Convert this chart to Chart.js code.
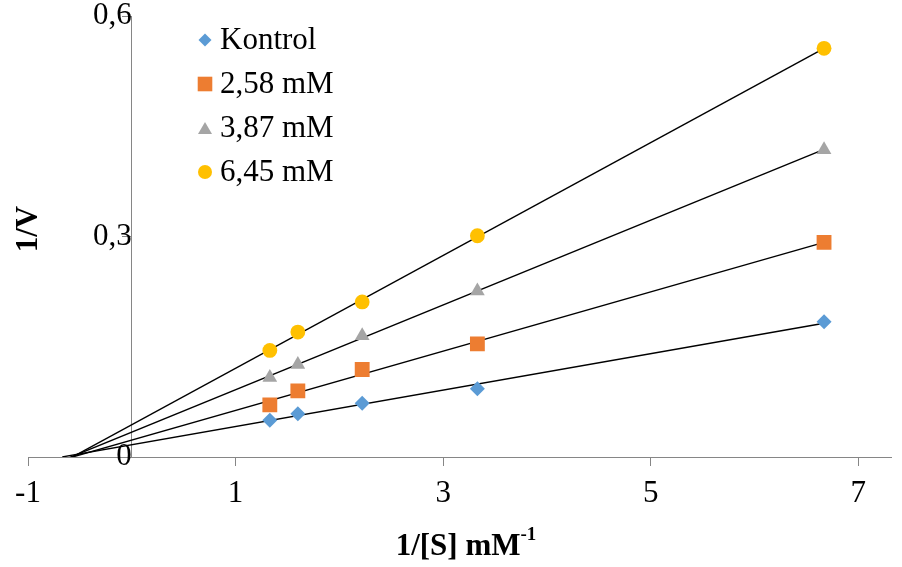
<!DOCTYPE html>
<html>
<head>
<meta charset="utf-8">
<script src="https://cdn.jsdelivr.net/npm/chart.js@4"></script>
<style>
  html, body { margin: 0; padding: 0; background: #fff; overflow: hidden; }
  canvas { display: block; }
</style>
</head>
<body>
<canvas id="chart" width="902" height="567"></canvas>
<script>
// 1/[S] values (mM^-1)
const xValues = [1.33, 1.6, 2.22, 3.33, 6.67];
// 1/V for each inhibitor concentration
const kontrol = [0.050, 0.059, 0.073, 0.093, 0.184];
const inh258 = [0.071, 0.090, 0.119, 0.154, 0.292];
const inh387 = [0.108, 0.126, 0.165, 0.226, 0.418];
const inh645 = [0.145, 0.170, 0.211, 0.301, 0.556];

const seriesNames = ['Kontrol', '2,58 mM', '3,87 mM', '6,45 mM'];
const xTicks = [-1, 1, 3, 5, 7];
const yTicks = [0, 0.3, 0.6];

const colors = ['#5B9BD5', '#ED7D31', '#A5A5A5', '#FFC000'];
const styles = ['rectRot', 'rect', 'triangle', 'circle'];
const radii = [7.5, 10.5, 8.5, 7.4];
const allSeries = [kontrol, inh258, inh387, inh645];

const FONT = "'Liberation Serif', 'Times New Roman', serif";

// least squares trendline, extended back to the x-axis region
function trend(ys) {
    const n = xValues.length;
    const mx = xValues.reduce((a, b) => a + b, 0) / n;
    const my = ys.reduce((a, b) => a + b, 0) / n;
    let sxy = 0, sxx = 0;
    for (let i = 0; i < n; i++) {
        sxy += (xValues[i] - mx) * (ys[i] - my);
        sxx += (xValues[i] - mx) * (xValues[i] - mx);
    }
    const m = sxy / sxx;
    const b = my - m * mx;
    const x0 = -0.67, x1 = xValues[n - 1];
    return [{ x: x0, y: m * x0 + b }, { x: x1, y: m * x1 + b }];
}

const datasets = [];
allSeries.forEach((ys, i) => {
    datasets.push({
        label: seriesNames[i],
        data: xValues.map((x, j) => ({ x: x, y: ys[j] })),
        showLine: false,
        pointStyle: styles[i],
        pointRadius: radii[i],
        pointHoverRadius: radii[i],
        backgroundColor: colors[i],
        borderColor: colors[i],
        borderWidth: 0,
        order: 1
    });
});
allSeries.forEach((ys, i) => {
    datasets.push({
        label: 'trend' + i,
        data: trend(ys),
        showLine: true,
        pointRadius: 0,
        borderColor: '#000',
        borderWidth: 1.4,
        fill: false,
        order: 2
    });
});

// legend drawn inside the plot area
const innerLegend = {
    id: 'innerLegend',
    afterDraw(chart) {
        const ctx = chart.ctx;
        const area = chart.chartArea;
        const legR = [6.5, 7.3, 7, 7];
        ctx.save();
        seriesNames.forEach((name, i) => {
            const cx = area.left + 177;
            const cy = area.top + 24 + i * 44;
            ctx.fillStyle = colors[i];
            const r = legR[i];
            ctx.beginPath();
            if (styles[i] === 'rectRot') {
                ctx.moveTo(cx, cy - r); ctx.lineTo(cx + r, cy);
                ctx.lineTo(cx, cy + r); ctx.lineTo(cx - r, cy);
            } else if (styles[i] === 'rect') {
                ctx.rect(cx - r, cy - r, 2 * r, 2 * r);
            } else if (styles[i] === 'triangle') {
                ctx.moveTo(cx, cy - r + 1); ctx.lineTo(cx + r, cy + r - 1);
                ctx.lineTo(cx - r, cy + r - 1);
            } else {
                ctx.arc(cx, cy, r, 0, Math.PI * 2);
            }
            ctx.closePath();
            ctx.fill();
            ctx.fillStyle = '#000';
            ctx.font = '31px ' + FONT;
            ctx.textBaseline = 'middle';
            ctx.textAlign = 'left';
            ctx.fillText(name, cx + 15, cy + 1);
        });
        ctx.restore();
    }
};

// axis titles (with superscript on the x title)
const axisTitles = {
    id: 'axisTitles',
    afterDraw(chart) {
        const ctx = chart.ctx;
        ctx.save();
        ctx.fillStyle = '#000';
        ctx.textBaseline = 'alphabetic';

        const main = '1/[S] mM';
        const sup = '-1';
        ctx.font = 'bold 31px ' + FONT;
        const w1 = ctx.measureText(main).width;
        ctx.font = 'bold 19px ' + FONT;
        const w2 = ctx.measureText(sup).width;
        const startX = 466 - (w1 + w2) / 2;
        ctx.textAlign = 'left';
        ctx.font = 'bold 31px ' + FONT;
        ctx.fillText(main, startX, 555);
        ctx.font = 'bold 19px ' + FONT;
        ctx.fillText(sup, startX + w1, 540);

        ctx.translate(37, 229);
        ctx.rotate(-Math.PI / 2);
        ctx.textAlign = 'center';
        ctx.font = 'bold 31px ' + FONT;
        ctx.fillText('1/V', 0, 0);
        ctx.restore();
    }
};

const axisColor = '#868686';

new Chart(document.getElementById('chart'), {
    type: 'scatter',
    data: { datasets: datasets },
    options: {
        responsive: false,
        animation: false,
        devicePixelRatio: 1,
        layout: { padding: { left: 28, right: 2, top: 16, bottom: 0 } },
        plugins: {
            legend: { display: false },
            tooltip: { enabled: false }
        },
        scales: {
            x: {
                type: 'linear',
                position: 'bottom',
                min: -1,
                max: 7.32,
                afterBuildTicks: s => { s.ticks = xTicks.map(v => ({ value: v })); },
                afterFit: s => { s.height = 110; s.paddingLeft = 0; s.paddingRight = 0; },
                ticks: {
                    color: '#000',
                    font: { family: FONT, size: 31 },
                    padding: 9,
                    maxRotation: 0
                },
                grid: {
                    drawOnChartArea: false,
                    drawTicks: true,
                    tickLength: 9,
                    color: axisColor
                },
                border: { color: axisColor, width: 1 }
            },
            y: {
                type: 'linear',
                position: { x: 0 },
                min: 0,
                max: 0.6,
                afterBuildTicks: s => { s.ticks = yTicks.map(v => ({ value: v })); },
                afterFit: s => {
                    s.paddingTop = 0; s.paddingBottom = 0;
                    s.paddingLeft = 0; s.paddingRight = 0;
                },
                ticks: {
                    color: '#000',
                    font: { family: FONT, size: 31 },
                    padding: 18,
                    callback: v => String(v).replace('.', ',')
                },
                grid: {
                    drawOnChartArea: false,
                    drawTicks: true,
                    tickLength: 9,
                    color: axisColor
                },
                border: { color: axisColor, width: 1 }
            }
        }
    },
    plugins: [innerLegend, axisTitles]
});
</script>
</body>
</html>
